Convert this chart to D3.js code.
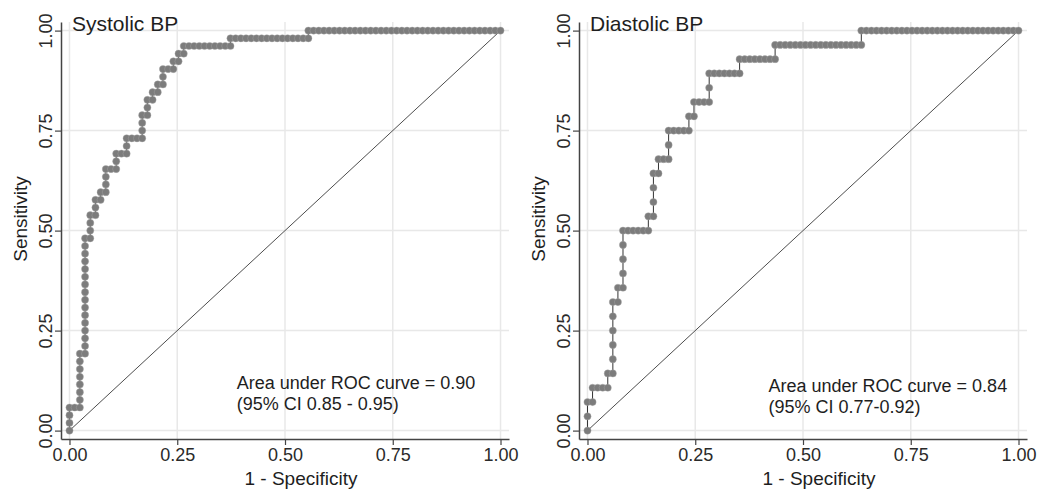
<!DOCTYPE html>
<html>

<head>
  <meta charset="utf-8">
  <title>ROC curves - systolic / diastolic BP</title>
  <script src="https://d3js.org/d3.v7.min.js"></script>
  <style>
    body { margin: 0; background: #fff; }
    text { font-family: "Liberation Sans", Arial, sans-serif; }
  </style>
</head>

<body>
  <script>
    // ticks shared by both axes of both panels
    var tickValues = [0, 0.25, 0.5, 0.75, 1];

    var titles = ["Systolic BP", "Diastolic BP"];
    var notes = [
      ["Area under ROC curve = 0.90", "(95% CI 0.85 - 0.95)"],
      ["Area under ROC curve = 0.84", "(95% CI 0.77-0.92)"]
    ];

    // systolic BP: cumulative false / true positives at each cutpoint
    var sysNeg = 83, sysPos = 52;
    var sysFP = [0, 0, 0, 0, 1, 2, 2, 2, 2, 2, 2, 2, 2, 3,
      3, 3, 3, 3, 3, 3, 3, 3, 3, 3, 3, 3, 3, 3, 3,
      4, 4, 4, 4, 5, 5, 5, 6, 6, 7, 7, 7, 7, 8, 9, 9, 9, 10, 11, 11, 11,
      12, 13, 14, 14, 14, 14, 15, 15, 15, 16, 16, 17, 17, 18, 18, 18, 19, 20, 20,
      21, 21, 22, 22, 23, 24, 25, 26, 27, 28, 29, 30, 31, 31,
      32, 33, 34, 35, 36, 37, 38, 39, 40, 41, 42, 43, 44, 45, 46, 46,
      47, 48, 49, 50, 51, 52, 53, 54, 55, 56, 57, 58, 59, 60, 61, 62, 63, 64, 65,
      66, 67, 68, 69, 70, 71, 72, 73, 74, 75, 76, 77, 78, 79, 80, 81, 82, 83];
    var sysTP = [0, 1, 2, 3, 3, 3, 4, 5, 6, 7, 8, 9, 10, 10,
      11, 12, 13, 14, 15, 16, 17, 18, 19, 20, 21, 22, 23, 24, 25,
      25, 26, 27, 28, 28, 29, 30, 30, 31, 31, 32, 33, 34, 34, 34, 35, 36, 36, 36, 37, 38,
      38, 38, 38, 39, 40, 41, 41, 42, 43, 43, 44, 44, 45, 45, 46, 47, 47, 47, 48,
      48, 49, 49, 50, 50, 50, 50, 50, 50, 50, 50, 50, 50, 51,
      51, 51, 51, 51, 51, 51, 51, 51, 51, 51, 51, 51, 51, 51, 51, 52,
      52, 52, 52, 52, 52, 52, 52, 52, 52, 52, 52, 52, 52, 52, 52, 52, 52, 52, 52,
      52, 52, 52, 52, 52, 52, 52, 52, 52, 52, 52, 52, 52, 52, 52, 52, 52, 52];

    // diastolic BP
    var diaNeg = 85, diaPos = 28;
    var diaFP = [0, 0, 0, 1, 1, 2, 3, 4, 4, 5, 5, 5, 5, 5, 5, 6, 6, 7, 7, 7,
      7, 7, 8, 9, 10, 11, 12, 12, 13, 13, 13, 13, 14, 14, 15, 16, 16, 16, 17, 18,
      19, 20, 20, 21, 21, 22, 23, 24, 24, 24, 25, 26, 27, 28, 29, 30, 30, 31, 32, 33,
      34, 35, 36, 37, 37,
      38, 39, 40, 41, 42, 43, 44, 45, 46, 47, 48, 49, 50, 51, 52, 53, 54, 54,
      55, 56, 57, 58, 59, 60, 61, 62, 63, 64, 65, 66, 67, 68, 69, 70,
      71, 72, 73, 74, 75, 76, 77, 78, 79, 80, 81, 82, 83, 84, 85];
    var diaTP = [0, 1, 2, 2, 3, 3, 3, 3, 4, 4, 5, 6, 7, 8, 9, 9, 10, 10, 11, 12,
      13, 14, 14, 14, 14, 14, 14, 15, 15, 16, 17, 18, 18, 19, 19, 19, 20, 21, 21, 21,
      21, 21, 22, 22, 23, 23, 23, 23, 24, 25, 25, 25, 25, 25, 25, 25, 26, 26, 26, 26,
      26, 26, 26, 26, 27,
      27, 27, 27, 27, 27, 27, 27, 27, 27, 27, 27, 27, 27, 27, 27, 27, 27, 28,
      28, 28, 28, 28, 28, 28, 28, 28, 28, 28, 28, 28, 28, 28, 28, 28,
      28, 28, 28, 28, 28, 28, 28, 28, 28, 28, 28, 28, 28, 28, 28];

    var width = 1039, height = 489;
    var plotW = 448, plotTop = 22, plotBottom = 439;

    var svg = d3.select("body").append("svg").attr("width", width).attr("height", height);

    var panels = [
      { left: 61, fp: sysFP, tp: sysTP, nNeg: sysNeg, nPos: sysPos, noteX: 0.388, noteY: 0.103 },
      { left: 579, fp: diaFP, tp: diaTP, nNeg: diaNeg, nPos: diaPos, noteX: 0.42, noteY: 0.0965 }
    ];

    panels.forEach(function (p, i) {
      var g = svg.append("g");

      var x = d3.scaleLinear().domain([-0.0197, 1.0197]).range([p.left, p.left + plotW]);
      var y = d3.scaleLinear().domain([-0.021, 1.0215]).range([plotBottom, plotTop]);

      // grid
      g.append("g").selectAll("line.gx").data(tickValues).enter().append("line")
        .attr("x1", d => x(d)).attr("x2", d => x(d))
        .attr("y1", plotTop).attr("y2", plotBottom)
        .attr("stroke", "#e8e8e8").attr("stroke-width", 1.5);
      g.append("g").selectAll("line.gy").data(tickValues).enter().append("line")
        .attr("x1", p.left).attr("x2", p.left + plotW)
        .attr("y1", d => y(d)).attr("y2", d => y(d))
        .attr("stroke", "#e8e8e8").attr("stroke-width", 1.5);

      // reference diagonal
      g.append("line")
        .attr("x1", x(0)).attr("y1", y(0)).attr("x2", x(1)).attr("y2", y(1))
        .attr("stroke", "#4d4d4d").attr("stroke-width", 1);

      var pts = p.fp.map((f, k) => ({ x: f / p.nNeg, y: p.tp[k] / p.nPos }));

      g.append("path")
        .datum(pts)
        .attr("fill", "none")
        .attr("stroke", "#333")
        .attr("stroke-width", 1)
        .attr("d", d3.line().x(d => x(d.x)).y(d => y(d.y)));

      g.append("g").selectAll("circle").data(pts).enter().append("circle")
        .attr("cx", d => x(d.x)).attr("cy", d => y(d.y))
        .attr("r", 3.6)
        .attr("fill", "#7c7c7c")
        .attr("stroke", "#a8a8a8").attr("stroke-width", 0.4);

      // axes
      var fmt = d3.format(".2f");
      var ya = g.append("g")
        .attr("transform", "translate(" + p.left + ",0)")
        .call(d3.axisLeft(y).tickValues(tickValues).tickSize(6).tickSizeOuter(0).tickFormat(fmt));
      ya.selectAll("text")
        .attr("transform", "rotate(-90)")
        .attr("x", 0).attr("y", -9).attr("dy", 0)
        .attr("text-anchor", "middle");

      var xa = g.append("g")
        .attr("transform", "translate(0," + plotBottom + ")")
        .call(d3.axisBottom(x).tickValues(tickValues).tickSize(6).tickSizeOuter(0).tickFormat(fmt));
      xa.selectAll("text").attr("y", 22).attr("dy", 0);

      [ya, xa].forEach(function (a) {
        a.attr("font-size", 18).attr("font-family", "Liberation Sans, Arial, sans-serif");
        a.select(".domain").attr("stroke", "#444").attr("stroke-width", 1.5);
        a.selectAll(".tick line").attr("stroke", "#444").attr("stroke-width", 1.2);
        a.selectAll(".tick text").attr("fill", "#2a2a2a");
      });

      // titles
      g.append("text")
        .attr("x", p.left + 11).attr("y", 31)
        .attr("font-size", 21).attr("fill", "#1e1e1e")
        .text(titles[i]);

      g.append("text")
        .attr("transform", "translate(" + (p.left - 34) + ",219) rotate(-90)")
        .attr("text-anchor", "middle")
        .attr("font-size", 19).attr("fill", "#1e1e1e")
        .text("Sensitivity");

      g.append("text")
        .attr("x", p.left + plotW / 2 + 16).attr("y", 485)
        .attr("text-anchor", "middle")
        .attr("font-size", 19).attr("fill", "#1e1e1e")
        .text("1 - Specificity");

      // AUC note
      notes[i].forEach(function (line, k) {
        g.append("text")
          .attr("x", x(p.noteX)).attr("y", y(p.noteY) + k * 20.8)
          .attr("font-size", 18).attr("fill", "#1e1e1e")
          .text(line);
      });
    });
  </script>
</body>

</html>
